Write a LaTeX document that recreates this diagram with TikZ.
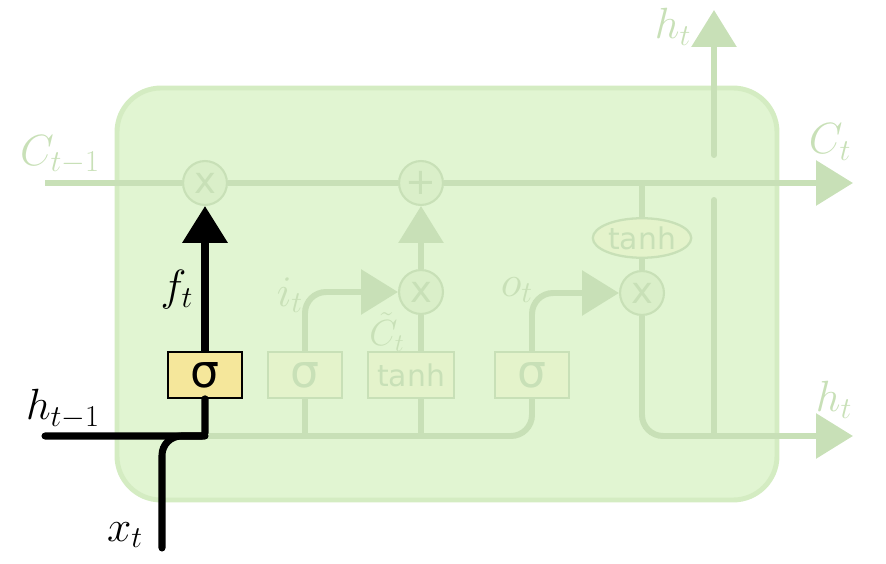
\documentclass[tikz,border=0pt]{standalone}
\usepackage{fontspec}
\newfontfamily\gatefont{DejaVu Sans}
\usetikzlibrary{arrows.meta,shapes.geometric}

\definecolor{cellfill}{HTML}{E1F5D2}
\definecolor{cellline}{HTML}{D4ECC2}
\definecolor{fadeline}{HTML}{C8E0B7}
\definecolor{layerfill}{HTML}{E4F3CB}
\definecolor{opfill}{HTML}{DAEFC9}
\definecolor{sigyellow}{HTML}{F5E79B}

\begin{document}
\begin{tikzpicture}[
    x=0.02cm, y=-0.02cm,
    cell/.style={draw=cellline, fill=cellfill, line width=2.8pt, rounded corners=25pt},
    flow/.style={draw=fadeline, line width=3.4pt},
    live/.style={draw=black, line width=4pt},
    tip/.style={-{Triangle[length=21pt,width=25pt]}},
    op/.style={
        circle,
        draw=fadeline,
        fill=opfill,
        line width=1.2pt,
        minimum size=25pt,
        inner sep=0pt,
        text=fadeline,
        font=\gatefont\fontsize{21}{21}\selectfont
    },
    layer/.style={
        draw=fadeline,
        fill=layerfill,
        line width=1.3pt,
        minimum width=42.5pt,
        minimum height=26pt,
        inner sep=0pt,
        text=fadeline,
        font=\gatefont\fontsize{26}{26}\selectfont
    },
    label/.style={text=fadeline, font=\fontsize{23}{27}\selectfont, inner sep=0pt}
]
\useasboundingbox (0,0) rectangle (886,564);

% the cell
\draw[cell] (117,88) rectangle (777,500);

% pointwise operations
\node[op] (fx) at (205,183) {x};
\node[op] (plus) at (421,183) {+};
\node[op] (ix) at (421,292) {x};
\node[op] (ox) at (642,293) {x};
\node[ellipse, draw=fadeline, fill=layerfill, line width=1.3pt, minimum width=56pt,
      minimum height=22.5pt, inner sep=0pt, text=fadeline,
      font=\gatefont\fontsize{17}{17}\selectfont] (tanhc) at (642,238) {tanh};

% layers
\node[layer, draw=black, fill=sigyellow, text=black, line width=1.1pt] (sigf) at (205,375) {σ};
\node[layer] (sigi) at (305,375) {σ};
\node[layer, minimum width=49pt, font=\gatefont\fontsize{17}{17}\selectfont] (tanhl) at (411,375) {tanh};
\node[layer] (sigo) at (532,375) {σ};

% ends
\coordinate (cin) at (45,183);
\coordinate (cout) at (853,183);
\coordinate (ctap) at (642,183);
\coordinate (hin) at (45,436);
\coordinate (hjoin) at (205,436);
\coordinate (hout) at (853,436);
\coordinate (xin) at (162,548);
\coordinate (ijoin) at (305,436);
\coordinate (tjoin) at (421,436);
\coordinate (hupa) at (714,155);
\coordinate (hupb) at (714,10);
\coordinate (hdowna) at (714,200);
\coordinate (hdownb) at (714,436);

% labels
\node[label] (lit) at (290,295) {$i_t$};
\node[label, font=\fontsize{20}{24}\selectfont] (lct) at (387,332) {$\tilde{C}_t$};
\node[label] (lot) at (517,290) {$o_t$};
\node[label] (lcin) at (60,155) {$C_{t-1}$};
\node[label] (lcout) at (830,142) {$C_t$};
\node[label] (lhup) at (673,27) {$h_t$};
\node[label] (lhout) at (834,400) {$h_t$};
\node[label, text=black] (lft) at (177,290) {$f_t$};
\node[label, text=black] (lhin) at (63,409) {$h_{t-1}$};
\node[label, text=black] (lxt) at (125,535) {$x_t$};

% cell state
\draw[flow] (cin) -- (fx);
\draw[flow] (fx) -- (plus);
\draw[flow, tip] (plus) -- (cout);

% faded flows
\draw[flow, rounded corners=12pt] (hjoin) -| (sigo);
\draw[flow] (ijoin) -- (sigi);
\draw[flow] (tjoin) -- (tjoin |- tanhl.south);
\draw[flow, tip, rounded corners=12pt] (sigi) |- (ix);
\draw[flow] (tjoin |- tanhl.north) -- (ix);
\draw[flow, tip] (ix) -- (plus);
\draw[flow, tip, rounded corners=12pt] (sigo) |- (ox);
\draw[flow] (ctap) -- (tanhc);
\draw[flow] (tanhc) -- (ox);
\draw[flow, tip, rounded corners=12pt] (ox) |- (hout);
\draw[flow, line cap=round, tip] (hupa) -- (hupb);
\draw[flow, line cap=round] (hdowna) -- (hdownb);

% forget gate
\draw[live, line cap=round, rounded corners=2pt] (hin) -- (hjoin) -- (sigf);
\draw[live, line cap=round, rounded corners=11pt] (xin) |- (hjoin);
\draw[live, tip] (sigf) -- (fx);

\end{tikzpicture}
\end{document}
